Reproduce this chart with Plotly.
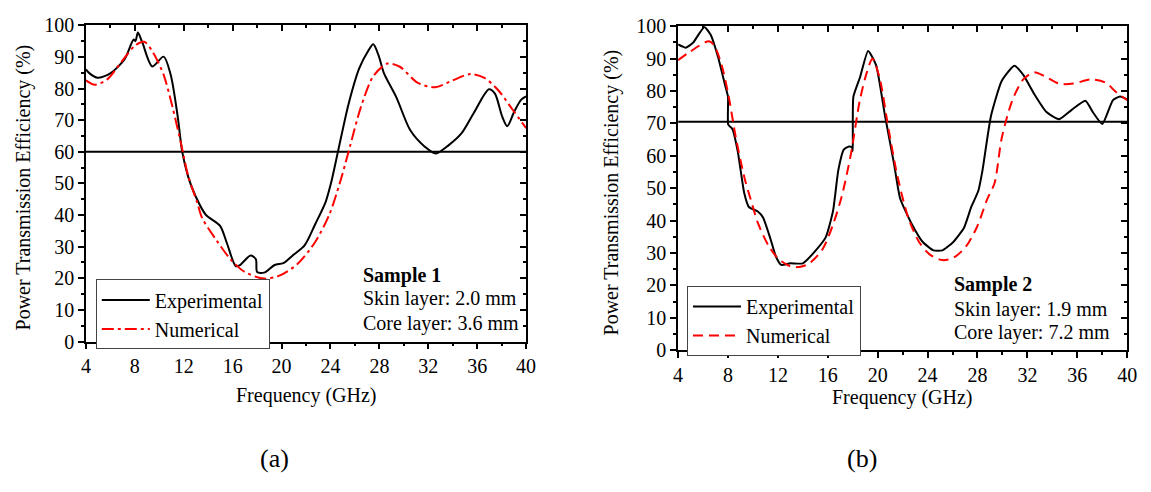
import plotly.graph_objects as go

# ---------------- data ----------------
# Sample 1 (a)
a_exp_f = [4.0, 4.3, 4.94, 6.03, 7.18, 7.9, 8.05, 8.25, 8.62, 9.43, 10.35, 10.93, 11.5, 11.88, 12.37,
           12.95, 13.8, 14.97, 15.54, 16.26, 16.6, 17.47, 17.9, 18.0, 18.57, 19.43, 20.15, 21.0, 21.9,
           22.75, 23.6, 24.05, 24.62, 25.49, 26.35, 27.08, 27.5, 27.94, 28.37, 29.38, 30.53, 31.69,
           32.61, 33.7, 34.71, 35.72, 36.96, 37.45, 38.03, 38.46, 39.04, 39.6, 40.0]
a_exp = [86.1, 84.8, 83.4, 84.9, 89.4, 95.5, 95.0, 97.7, 94.5, 87.0, 90.1, 84.4, 71.3, 59.9, 52.0,
         46.1, 40.1, 36.6, 31.0, 23.8, 24.2, 27.2, 26.0, 22.0, 21.8, 24.2, 24.8, 27.5, 30.5,
         37.1, 44.1, 50.2, 60.2, 75.3, 86.4, 91.9, 94.0, 90.4, 84.9, 77.3, 66.8, 61.7,
         59.5, 62.2, 65.8, 72.3, 79.8, 78.4, 71.3, 68.1, 72.8, 76.5, 77.5]
a_num_f = [4.0, 4.73, 5.74, 6.9, 8.04, 8.77, 9.49, 10.35, 11.07, 11.8, 12.37, 13.09, 13.5, 14.68,
           15.83, 16.98, 18.57, 19.87, 21.3, 22.75, 23.9, 24.77, 25.49, 26.5, 27.5, 28.66, 29.67,
           31.11, 32.55, 34.0, 35.44, 36.59, 37.74, 38.9, 40.0]
a_num = [82.6, 81.2, 82.9, 88.4, 93.7, 94.8, 91.4, 84.4, 74.3, 62.2, 52.2, 44.1, 39.1, 32.0,
         26.0, 22.0, 19.9, 20.9, 24.5, 31.5, 40.1, 50.2, 60.2, 74.3, 83.9, 87.9, 86.9,
         81.9, 80.4, 82.6, 84.6, 83.4, 79.4, 73.3, 67.5]
a_threshold = 60

# Sample 2 (b)
b_exp_f = [4.0, 4.62, 5.19, 6.11, 6.62, 7.2, 7.78, 8.0, 8.02, 8.35, 8.78, 9.3, 9.67, 10.39, 10.82,
           11.4, 11.83, 12.27, 12.99, 14.0, 14.97, 15.84, 16.42, 16.84, 17.28, 17.7, 17.94, 18.0,
           18.05, 18.57, 19.23, 19.87, 20.59, 21.31, 21.8, 22.75, 23.61, 24.47, 25.19, 26.06,
           26.92, 27.5, 28.07, 28.4, 29.08, 29.94, 30.95, 31.67, 32.53, 33.53, 34.54, 35.55,
           36.65, 37.28, 38.0, 38.86, 39.43, 40.0]
b_exp = [94.4, 93.4, 94.9, 99.8, 97.3, 90.5, 81.6, 78.2, 69.6, 68.3, 61.4, 48.5, 44.2, 42.8, 40.9,
         34.4, 29.0, 26.3, 26.8, 26.8, 30.5, 34.9, 43.0, 55.5, 61.9, 62.9, 62.6, 61.4,
         78.2, 84.1, 92.4, 88.0, 72.3, 57.5, 46.8, 38.8, 33.4, 30.8, 30.8, 33.4,
         37.8, 44.2, 49.2, 55.5, 72.3, 83.1, 87.8, 85.0, 79.2, 73.5, 71.3, 74.2,
         77.0, 73.3, 69.8, 77.2, 78.3, 77.4]
b_num_f = [4.0, 4.9, 6.48, 6.92, 7.49, 8.06, 8.64, 9.36, 9.94, 10.37, 11.23, 12.09, 13.25, 14.4,
           15.55, 16.42, 17.13, 17.85, 18.57, 19.15, 19.58, 20.15, 20.87, 21.59, 22.46, 23.32,
           24.19, 25.19, 26.06, 27.06, 27.93, 28.79, 29.37, 29.94, 30.8, 31.67, 32.53, 33.39,
           34.54, 35.68, 37.13, 38.27, 39.13, 40.0]
b_num = [89.5, 92.0, 95.4, 93.9, 88.0, 78.2, 65.4, 52.6, 45.0, 39.5, 32.4, 28.0, 25.6, 26.5,
         31.0, 38.8, 47.7, 60.5, 77.2, 86.0, 90.0, 84.1, 68.3, 53.6, 40.8, 33.4,
         29.5, 27.8, 28.5, 31.9, 37.8, 46.7, 51.6, 65.4, 77.2, 83.6, 85.8, 84.6,
         82.3, 82.3, 83.6, 82.6, 79.6, 77.2]
b_threshold = 70.5

freq_range = [4, 40]
eff_range = [0, 100]

# ---------------- figure ----------------
FONT = "Liberation Serif"
FS = 20
W, H = 1151, 492

def px_x(p):
    return p / W

def px_y(p):
    return 1 - p / H

dom = {
    "a": dict(x=[px_x(82), px_x(528)], y=[px_y(346), px_y(15)]),
    "b": dict(x=[px_x(682), px_x(1137)], y=[px_y(355), px_y(16)]),
}

fig = go.Figure()

def add_panel(fig, xa, ya, xo, yo, f_exp, v_exp, f_num, v_num, thr, num_dash, legend, sm_exp):
    fig.add_trace(go.Scatter(x=freq_range, y=[thr, thr], mode="lines",
                             line=dict(color="black", width=2), showlegend=False,
                             xaxis=xa, yaxis=ya, hoverinfo="skip"))
    fig.add_trace(go.Scatter(x=f_exp, y=v_exp, mode="lines", name="Experimental",
                             line=dict(color="black", width=2, shape="spline", smoothing=sm_exp),
                             xaxis=xa, yaxis=ya, legend=legend))
    fig.add_trace(go.Scatter(x=f_num, y=v_num, mode="lines", name="Numerical",
                             line=dict(color="#ff0000", width=2, dash=num_dash,
                                       shape="spline", smoothing=0.8),
                             xaxis=xa, yaxis=ya, legend=legend))
    # dummy trace for the mirror axes
    fig.add_trace(go.Scatter(x=[None], y=[None], xaxis=xo, yaxis=yo, showlegend=False,
                             hoverinfo="skip"))

add_panel(fig, "x", "y", "x3", "y3", a_exp_f, a_exp, a_num_f, a_num, a_threshold,
          "12px,4px,3px,4px", "legend", 0.8)
add_panel(fig, "x2", "y2", "x4", "y4", b_exp_f, b_exp, b_num_f, b_num, b_threshold,
          "10px,6px", "legend2", 0.5)

tickfont = dict(family=FONT, size=FS, color="black")

def main_x(domain, anchor):
    return dict(domain=domain, anchor=anchor, range=freq_range, showline=True, linecolor="black",
                linewidth=1.5, ticks="outside", ticklen=6, tickwidth=1.5, tickcolor="black",
                dtick=4, tick0=4, tickfont=tickfont, showgrid=False, zeroline=False,
                minor=dict(dtick=2, ticklen=3, ticks="outside", tickcolor="black", tickwidth=1.5,
                           showgrid=False))

def main_y(domain, anchor):
    return dict(domain=domain, anchor=anchor, range=eff_range, showline=True, linecolor="black",
                linewidth=1.5, ticks="outside", ticklen=6, tickwidth=1.5, tickcolor="black",
                dtick=10, tickfont=tickfont, showgrid=False, zeroline=False,
                minor=dict(dtick=5, ticklen=3, ticks="outside", tickcolor="black", tickwidth=1.5,
                           showgrid=False))

def mirror_x(over, anchor):
    return dict(overlaying=over, anchor=anchor, side="top", range=freq_range, showline=True,
                linecolor="black", linewidth=1.5, ticks="inside", ticklen=6, tickwidth=1.5,
                tickcolor="black", dtick=4, tick0=4, showticklabels=False, showgrid=False,
                zeroline=False,
                minor=dict(dtick=2, ticklen=3, ticks="inside", tickcolor="black", tickwidth=1.5,
                           showgrid=False))

def mirror_y(over, anchor):
    return dict(overlaying=over, anchor=anchor, side="right", range=eff_range, showline=True,
                linecolor="black", linewidth=1.5, ticks="inside", ticklen=6, tickwidth=1.5,
                tickcolor="black", dtick=10, showticklabels=False, showgrid=False,
                zeroline=False,
                minor=dict(dtick=5, ticklen=3, ticks="inside", tickcolor="black", tickwidth=1.5,
                           showgrid=False))

legend_common = dict(font=dict(family=FONT, size=FS, color="black"), bgcolor="white",
                     bordercolor="#444444", borderwidth=1, xanchor="left", yanchor="top",
                     itemwidth=48, tracegroupgap=0)

fig.update_layout(
    width=W, height=H, autosize=False,
    margin=dict(l=0, r=0, t=0, b=0),
    paper_bgcolor="white", plot_bgcolor="white",
    font=dict(family=FONT, size=FS, color="black"),
    xaxis=main_x(dom["a"]["x"], "y"),
    yaxis=main_y(dom["a"]["y"], "x"),
    xaxis2=main_x(dom["b"]["x"], "y2"),
    yaxis2=main_y(dom["b"]["y"], "x2"),
    xaxis3=mirror_x("x", "y"),
    yaxis3=mirror_y("y", "x"),
    xaxis4=mirror_x("x2", "y2"),
    yaxis4=mirror_y("y2", "x2"),
    legend=dict(x=px_x(92), y=px_y(281), **legend_common),
    legend2=dict(x=px_x(691), y=px_y(288), **legend_common),
    showlegend=True,
)

def ann(text, x, y, size=FS, xanchor="center", angle=0):
    fig.add_annotation(text=text, x=px_x(x), y=px_y(y), xref="paper", yref="paper",
                       xanchor=xanchor, yanchor="middle", showarrow=False, textangle=angle,
                       font=dict(family=FONT, size=size, color="black"))

# axis titles
ann("Frequency (GHz)", 305, 402)
ann("Frequency (GHz)", 909, 405)
ann("Power Transmission Efficiency (%)", 19, 185, angle=-90)
ann("Power Transmission Efficiency (%)", 615, 190, angle=-90)

# panel texts
ann("<b>Sample 1</b>", 361, 277, xanchor="left")
ann("Skin layer: 2.0 mm", 361, 301, xanchor="left")
ann("Core layer: 3.6 mm", 361, 327, xanchor="left")
ann("<b>Sample 2</b>", 959, 286, xanchor="left")
ann("Skin layer: 1.9 mm", 959, 312, xanchor="left")
ann("Core layer: 7.2 mm", 959, 337, xanchor="left")

ann("(a)", 273, 468, size=26)
ann("(b)", 868, 468, size=26)

fig.write_html("out.html")
